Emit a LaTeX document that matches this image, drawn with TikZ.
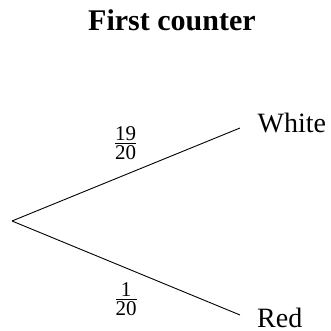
\documentclass[tikz,border=0pt]{standalone}
\usepackage{amsmath}
\usepackage{fontspec}
\setmainfont{Liberation Serif}
\begin{document}
\begin{tikzpicture}[x=1pt,y=1pt,
  branch/.style={line width=0.9pt},
  outcome/.style={font=\fontsize{28}{32}\selectfont, anchor=base west, inner sep=0pt, text depth=0pt},
  prob/.style={font=\fontsize{30}{34}\selectfont, inner sep=0pt},
  titlestyle/.style={font=\fontsize{30}{34}\selectfont\bfseries, anchor=base west, inner sep=0pt}]
\useasboundingbox (0,0) rectangle (331,331);
\node[titlestyle] (title) at (88,300) {First counter};
\coordinate (root) at (12,110);
\coordinate (w) at (240,203);
\coordinate (r) at (240,16);
\draw[branch] (root) -- (w);
\draw[branch] (root) -- (r);
\node[outcome] (white) at (257.5,198) {White};
\node[outcome] (red) at (257,3.5) {Red};
\node[prob] (p1) at (125.5,188) {$\frac{\text{19}}{\text{20}}$};
\node[prob] (p2) at (126,32) {$\frac{\text{1}}{\text{20}}$};
\end{tikzpicture}
\end{document}
